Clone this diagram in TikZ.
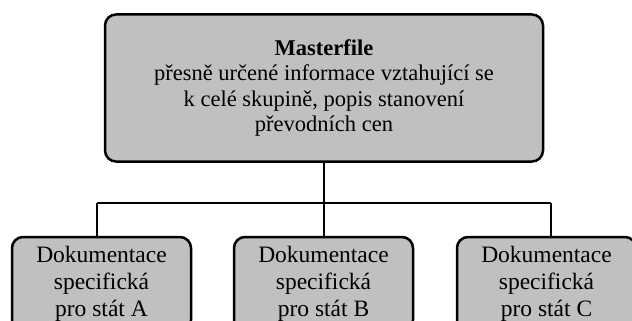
\documentclass[tikz,border=0pt]{standalone}
\usepackage{fontspec}
\setmainfont{Liberation Serif}
\definecolor{boxgray}{HTML}{C0C0C0}
\begin{document}
\begin{tikzpicture}[x=1pt,y=1pt,
  box/.style={draw=black, line width=2.5pt, fill=boxgray, rounded corners=11pt,
    align=center, inner sep=0pt, font=\fontsize{22.5}{25.5}\selectfont},
  small/.style={font=\fontsize{23.5}{27}\selectfont},
  link/.style={draw=black, line width=2.5pt}]
\useasboundingbox (0,0) rectangle (632,-321);
\begin{scope}
\clip (0,0) rectangle (632,-321);
\node[box, minimum width=438pt, minimum height=147pt] (top) at (324,-88)
  {\textbf{Masterfile}\\přesně určené informace vztahující se\\k celé skupině, popis stanovení\\převodních cen};
\node[box, small, minimum width=179pt, minimum height=94pt] (a) at (101.5,-284)
  {Dokumentace\\specifická\\pro stát A};
\node[box, small, minimum width=179pt, minimum height=94pt] (b) at (323.5,-284)
  {Dokumentace\\specifická\\pro stát B};
\node[box, small, minimum width=179pt, minimum height=94pt] (c) at (546.5,-284)
  {Dokumentace\\specifická\\pro stát C};
\end{scope}
\coordinate (hA) at (97,-203);
\coordinate (hB) at (324,-203);
\coordinate (hC) at (551,-203);
\draw[link] (top.south -| hB) -- (hB);
\draw[link] (hA) -- (hC);
\draw[link] (hA) -- (hA |- a.north);
\draw[link] (hB) -- (hB |- b.north);
\draw[link] (hC) -- (hC |- c.north);
\end{tikzpicture}
\end{document}
